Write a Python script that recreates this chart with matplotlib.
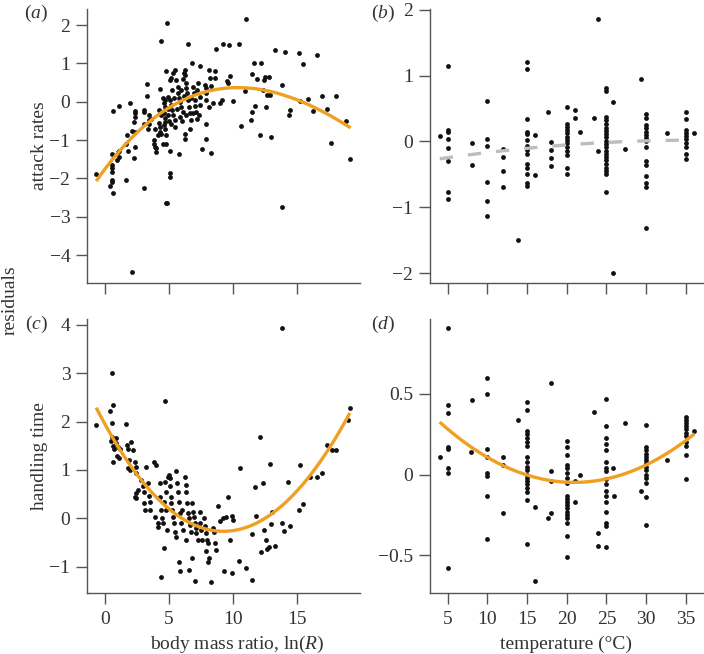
import numpy as np
import matplotlib
matplotlib.use("Agg")
import matplotlib.pyplot as plt

plt.rcParams['font.family'] = ['Liberation Serif', 'DejaVu Serif']
plt.rcParams['mathtext.fontset'] = 'custom'
plt.rcParams['mathtext.rm'] = 'Liberation Serif'
plt.rcParams['mathtext.it'] = 'Liberation Serif:italic'

# (a) attack rate residuals vs body mass ratio
attack_pts = [
    (-0.68, -1.89), (0.36, -2.19), (0.63, -2.37), (0.55, -1.37), (0.55, -1.65), (0.55, -1.74),
    (0.55, -1.83), (0.57, -2.04), (0.57, -2.09), (0.63, -0.23), (1.07, -0.11), (0.94, -1.52),
    (1.02, -1.30), (1.09, -1.28), (1.07, -1.43), (1.67, -2.04), (1.67, -1.10), (1.69, -0.87),
    (1.80, -1.28), (1.93, -0.03), (2.14, -0.76), (2.32, -0.78), (2.32, -0.30), (2.32, -0.23),
    (2.32, -0.39), (2.29, -0.52), (2.37, -1.17), (2.29, -1.48), (2.11, -4.45), (3.05, -2.26),
    (3.02, -0.22), (3.05, -0.57), (3.02, -0.26), (3.26, 0.46), (3.31, 0.15), (3.41, -0.35),
    (3.44, -0.48), (3.44, -0.57), (3.36, -0.70), (3.80, -1.00), (3.83, -1.09), (3.88, -1.17),
    (3.98, -1.30), (4.01, -1.22), (4.27, 0.32), (4.22, -0.22), (4.27, -0.65), (4.32, -0.78),
    (4.14, -0.87), (4.40, -0.83), (4.38, 1.59), (4.53, 0.09), (4.58, -0.04), (4.66, 0.04),
    (4.71, -0.13), (4.61, -0.30), (4.66, -0.43), (4.71, -0.52), (4.58, -0.61), (4.66, -0.72),
    (4.79, -0.87), (4.77, -1.09), (4.53, -1.09), (4.84, 2.06), (4.79, 0.81), (4.74, -2.63),
    (4.87, -2.65), (5.08, 0.57), (5.13, 0.63), (5.10, -1.28), (5.10, -1.87), (5.10, -1.96),
    (4.92, 0.13), (5.05, 0.04), (5.18, -0.09), (5.26, -0.22), (5.31, -0.35), (5.44, -0.48),
    (4.92, -0.35), (5.18, -0.57), (5.49, 0.83), (5.57, 0.57), (5.70, 0.39), (5.70, 0.22),
    (5.78, 0.09), (5.83, 0.00), (5.96, -0.13), (6.09, -0.26), (5.83, -0.39), (5.78, -1.37),
    (6.15, 0.76), (6.25, 0.83), (6.28, 0.70), (6.35, 0.48), (6.35, 0.35), (6.43, 0.22),
    (6.48, 0.04), (6.54, -0.13), (6.61, -0.30), (6.69, -0.48), (6.61, -0.70), (6.22, -0.83),
    (6.25, -0.96), (6.51, 1.50), (6.82, 1.00), (6.88, 0.39), (6.95, 0.22), (7.01, 0.04),
    (7.03, -0.11), (7.08, -0.26), (7.19, 0.30), (7.29, 0.48), (7.40, 0.93), (7.42, 0.13),
    (7.42, -0.09), (7.34, -0.35), (7.55, -1.24), (7.81, 0.44), (7.86, 0.35), (7.92, 0.22),
    (7.92, 0.04), (7.86, -0.57), (7.89, -0.98), (8.10, 0.83), (8.18, 0.61), (8.13, -0.13),
    (8.31, 0.41), (8.44, -0.04), (8.28, -1.33), (8.59, 0.80), (8.62, 0.62), (8.65, 1.37),
    (8.96, -0.04), (9.14, 0.04), (9.22, 1.50), (9.53, 0.55), (9.61, 0.48), (9.69, 1.48),
    (9.79, 0.67), (10.0, 0.02), (10.44, 1.50), (10.65, -0.63), (10.91, 0.29), (11.04, 2.15),
    (11.43, -0.48), (11.48, -0.28), (11.51, 0.72), (11.64, 1.00), (11.74, -0.10), (11.88, 0.59),
    (12.08, -0.87), (12.21, 1.00), (12.34, 0.30), (12.40, 0.57), (12.47, 0.65), (12.53, -0.13),
    (12.68, 0.17), (12.79, 0.65), (12.86, 0.17), (12.92, -0.91), (13.26, 1.35), (13.78, 0.43),
    (13.80, -2.74), (14.04, 1.30), (14.38, -0.35), (14.43, -0.22), (15.13, 1.28), (15.21, 0.02),
    (15.47, 0.98), (15.86, 0.06), (16.20, -0.23), (16.56, 1.21), (16.90, 0.15), (17.29, -0.19),
    (17.63, -1.07), (18.02, 0.15), (18.80, -0.50), (19.11, -1.50),
    (5.2, 0.30), (5.4, 0.10), (5.6, -0.20), (5.9, 0.30), (6.0, -0.50), (6.3, -0.35),
    (6.7, 0.10), (6.9, -0.30), (5.5, -0.65), (4.9, -0.20), (5.0, -0.50), (6.2, 0.15),
    (7.2, -0.45), (6.1, 0.60), (5.3, 0.75), (4.4, -0.35), (4.2, -0.55), (3.6, -0.45), (3.9, -0.70),
]
attack_curve_x = [-0.68, 2.19, 5.0, 10.0, 11.5, 15.0, 19.17]
attack_curve_y = [-2.07, -0.91, -0.15, 0.35, 0.37, 0.04, -0.68]

# (c) handling time residuals vs body mass ratio
handling_pts = [
    (-0.68, 1.93), (0.36, 2.21), (0.52, 3.00), (0.63, 2.34), (0.57, 1.97), (0.55, 1.69),
    (0.49, 1.59), (0.63, 1.50), (0.68, 1.43), (0.63, 1.17), (0.83, 1.66), (0.89, 1.55),
    (1.02, 1.48), (0.94, 1.28), (1.07, 1.24), (1.15, 1.43), (1.67, 1.95), (1.74, 1.52),
    (1.80, 1.43), (1.88, 1.21), (1.80, 1.03), (2.06, 1.57), (2.19, 1.41), (2.32, 1.17),
    (2.40, 1.07), (1.98, 1.00), (2.45, 0.93), (2.40, 0.52), (2.32, 0.45), (2.45, 0.41),
    (2.58, 0.59), (2.84, 0.79), (2.97, 0.66), (3.02, 0.55), (3.05, 0.31), (3.10, 0.17),
    (3.23, 1.07), (3.36, 0.72), (3.41, 0.46), (3.49, 0.34), (3.54, 0.17), (3.80, 1.17),
    (3.88, 0.03), (4.01, 1.10), (4.14, -0.19), (4.17, -0.10), (4.27, 0.72), (4.32, 0.45),
    (4.40, 0.17), (4.45, 0.00), (4.53, -0.10), (4.58, 0.34), (4.66, 0.76), (4.74, 0.55),
    (4.79, 0.17), (4.84, -0.24), (4.92, 0.86), (4.38, -1.21), (4.58, -0.62), (4.71, 2.43),
    (5.00, 0.90), (5.05, 0.66), (5.13, 0.45), (5.18, 0.31), (5.26, 0.17), (5.31, 0.03),
    (5.36, -0.10), (5.44, -0.28), (5.52, -0.38), (5.10, 0.83), (5.57, 0.97), (5.62, 0.72),
    (5.70, 0.55), (5.78, 0.34), (5.83, 0.10), (5.96, -0.10), (6.04, 0.17), (6.09, -0.24),
    (5.78, -0.91), (5.83, -1.10), (6.22, 0.86), (6.30, 0.69), (6.35, 0.55), (6.41, 0.31),
    (6.48, 0.10), (6.56, 0.00), (6.61, -0.14), (6.74, -0.28), (6.35, -0.45), (6.56, -1.07),
    (6.82, 0.31), (6.88, 0.14), (6.93, 0.03), (7.01, -0.10), (7.08, -0.21), (7.14, -0.31),
    (7.27, -0.45), (7.40, 0.14), (7.45, -0.10), (7.53, -0.24), (7.60, -0.45), (6.82, -0.83),
    (7.01, -1.29), (7.71, 0.00), (7.79, -0.17), (7.92, -0.30), (7.97, -0.45), (8.05, -0.52),
    (7.86, -0.67), (8.05, -0.90), (8.13, -0.83), (8.26, -1.31), (8.44, -0.21), (8.49, -0.28),
    (8.57, -0.52), (8.65, -0.66), (8.83, 0.26), (8.96, -0.05), (9.22, 0.00), (9.48, 0.02),
    (9.58, 0.45), (9.74, -0.45), (9.92, 0.05), (10.0, -0.03), (9.27, -1.10), (9.95, -1.14),
    (10.52, 1.03), (10.47, -0.88), (11.04, -1.02), (11.48, -1.28), (11.46, -0.33), (11.74, 0.64),
    (11.82, 0.05), (12.08, 1.69), (12.21, -0.69), (12.34, 0.72), (12.40, -0.24), (12.60, -0.45),
    (12.66, -0.64), (12.81, -0.59), (12.86, 1.12), (12.92, -0.12), (13.00, 0.14), (13.26, -0.57),
    (13.78, 3.93), (13.78, -0.10), (13.98, -0.26), (14.30, 0.76), (14.43, -0.17), (15.16, 0.17),
    (15.21, 1.10), (15.42, 0.29), (15.99, 0.86), (16.51, 0.86), (16.90, 0.93), (17.29, 1.52),
    (17.68, 1.41), (18.02, 1.41), (18.98, 2.03), (19.11, 2.28),
]
handling_curve_x = [-0.68, 2.19, 5.0, 8.96, 10.0, 15.0, 19.11]
handling_curve_y = [2.26, 1.07, 0.19, -0.30, -0.28, 0.62, 2.16]

# (b) attack rate residuals vs temperature
attack_temp_pts = [
    (4.0, 0.08), (5, 1.14), (5, 0.17), (5, 0.15), (5, 0.03), (5, -0.10), (5, -0.30), (5, -0.77),
    (5, -0.88), (8.0, -0.03), (8.0, -0.36), (10, 0.62), (10, 0.04), (10, -0.07), (10, -0.61),
    (10, -0.91), (10, -1.13), (12.0, -0.11), (12.0, -0.23), (12.0, -0.45), (12.0, -0.70),
    (13.9, -1.49), (15, 1.20), (15, 1.10), (15, 0.34), (15, 0.15), (15, 0.11), (15, 0.02),
    (15, -0.07), (15, -0.13), (15, -0.19), (15, -0.35), (15, -0.41), (15, -0.49), (15, -0.63),
    (15, -0.68), (16.0, 0.10), (16.0, -0.51), (17.6, 0.44), (18.0, -0.01), (18.0, -0.13),
    (18.0, -0.25), (18.0, -0.37), (20, 0.52), (20, 0.27), (20, 0.22), (20, 0.17), (20, 0.12),
    (20, 0.07), (20, 0.02), (20, -0.03), (20, -0.08), (20, -0.14), (20, -0.21), (20, -0.41),
    (20, -0.50), (21.0, 0.47), (21.0, 0.35), (21.7, 0.14), (23.5, 0.36), (23.9, 1.86),
    (23.9, -0.14), (25, 0.81), (25, 0.76), (25, 0.37), (25, 0.32), (25, 0.26), (25, 0.21),
    (25, 0.16), (25, 0.11), (25, 0.06), (25, 0.01), (25, -0.04), (25, -0.09), (25, -0.14),
    (25, -0.19), (25, -0.24), (25, -0.29), (25, -0.34), (25, -0.40), (25, -0.45), (25, -0.49),
    (25, -0.77), (25.8, 0.60), (25.8, -2.00), (27.4, -0.12), (29.4, 0.94), (30, 0.42),
    (30, 0.35), (30, 0.25), (30, 0.20), (30, 0.15), (30, 0.10), (30, 0.05), (30, 0.00),
    (30, -0.08), (30, -0.30), (30, -0.36), (30, -0.52), (30, -0.63), (30, -0.70), (30, -1.32),
    (32.7, 0.12), (35, 0.45), (35, 0.34), (35, 0.18), (35, 0.13), (35, 0.08), (35, 0.03),
    (35, -0.02), (35, -0.08), (35, -0.19), (35, -0.27), (36.0, 0.12),
]
attack_temp_curve_x = [4.0, 8.7, 15.0, 20.0, 25.0, 30.0, 35.1]
attack_temp_curve_y = [-0.27, -0.18, -0.10, -0.06, -0.02, 0.01, 0.02]

# (d) handling time residuals vs temperature
handling_temp_pts = [
    (4.0, 0.11), (5, 0.91), (5, 0.43), (5, 0.38), (5, 0.17), (5, 0.16), (5, 0.04), (5, 0.01),
    (5, -0.58), (8.0, 0.46), (7.9, 0.14), (10, 0.60), (10, 0.50), (10, 0.16), (10, 0.11),
    (10, 0.01), (10, -0.01), (10, -0.13), (10, -0.40), (12.0, 0.11), (12.0, 0.06), (12.0, -0.24),
    (13.9, 0.34), (15, 0.45), (15, 0.40), (15, 0.27), (15, 0.25), (15, 0.23), (15, 0.20),
    (15, 0.18), (15, 0.11), (15, 0.08), (15, 0.05), (15, 0.03), (15, 0.00), (15, -0.02),
    (15, -0.04), (15, -0.06), (15, -0.08), (15, -0.11), (15, -0.16), (15, -0.43), (16.0, -0.20),
    (16.0, -0.66), (17.6, -0.27), (18.0, 0.57), (18.0, 0.02), (18.0, -0.04), (18.0, -0.24),
    (20, 0.21), (20, 0.17), (20, 0.12), (20, 0.06), (20, 0.04), (20, 0.01), (20, -0.02),
    (20, -0.05), (20, -0.13), (20, -0.15), (20, -0.17), (20, -0.19), (20, -0.21), (20, -0.23),
    (20, -0.25), (20, -0.27), (20, -0.30), (20, -0.38), (20, -0.51), (21.0, -0.04), (21.0, -0.17),
    (21.7, 0.00), (23.5, 0.39), (23.9, -0.36), (23.9, -0.44), (25, 0.47), (25, 0.30), (25, 0.23),
    (25, 0.19), (25, 0.15), (25, 0.08), (25, 0.04), (25, 0.02), (25, -0.03), (25, -0.06),
    (25, -0.10), (25, -0.13), (25, -0.17), (25, -0.23), (25, -0.30), (25, -0.32), (25, -0.45),
    (25.8, 0.04), (26.0, -0.13), (27.4, 0.32), (29.4, -0.10), (30, 0.31), (30, 0.17), (30, 0.15),
    (30, 0.13), (30, 0.11), (30, 0.09), (30, 0.07), (30, 0.05), (30, 0.03), (30, 0.00),
    (30, -0.02), (30, -0.05), (30, -0.14), (30, -0.31), (32.7, 0.09), (35, 0.36), (35, 0.34),
    (35, 0.32), (35, 0.30), (35, 0.28), (35, 0.26), (35, 0.24), (35, 0.20), (35, 0.18),
    (35, 0.12), (35, -0.03), (36.0, 0.27),
]
handling_temp_curve_x = [4.0, 10.0, 15.0, 20.0, 25.0, 30.0, 36.1]
handling_temp_curve_y = [0.31, 0.13, 0.01, -0.06, -0.04, 0.06, 0.26]

orange = '#EFA020'
grey = '#BDBDBD'
txt = '#333333'

fig = plt.figure(figsize=(7.04, 6.54), dpi=100)
W, H = 704, 654


def make_ax(l, t, r, b):
    return fig.add_axes([l / W, 1 - b / H, (r - l) / W, (b - t) / H])


ax_a = make_ax(87, 9, 360, 283)
ax_b = make_ax(430, 9, 704, 283)
ax_c = make_ax(87, 319, 360, 593)
ax_d = make_ax(430, 319, 704, 593)

fs = 14


def style(ax):
    for s in ['top', 'right']:
        ax.spines[s].set_visible(False)
    for s in ['left', 'bottom']:
        ax.spines[s].set_color('#555555')
        ax.spines[s].set_linewidth(1.0)
    ax.tick_params(direction='out', length=8, width=1.0, color='#555555',
                   labelsize=fs, labelcolor=txt, pad=4)
    ax.tick_params(axis='x', pad=5)


def scatter_fit(ax, pts, cx, cy, deg, lo, hi, color, dashed=False):
    p = np.array(pts)
    ax.scatter(p[:, 0], p[:, 1], s=12, color='#111111', linewidths=0, zorder=2)
    coef = np.polyfit(cx, cy, deg)
    xs = np.linspace(lo, hi, 200)
    if dashed:
        ax.plot(xs, np.polyval(coef, xs), color=color, lw=2.4, dashes=(4.0, 4.5), zorder=3)
    else:
        ax.plot(xs, np.polyval(coef, xs), color=color, lw=2.4, zorder=3,
                solid_capstyle='butt')


scatter_fit(ax_a, attack_pts, attack_curve_x, attack_curve_y, 3, -0.68, 19.17, orange)
scatter_fit(ax_c, handling_pts, handling_curve_x, handling_curve_y, 3, -0.68, 19.11, orange)
scatter_fit(ax_b, attack_temp_pts, attack_temp_curve_x, attack_temp_curve_y, 2, 4.0, 35.3, grey, dashed=True)
scatter_fit(ax_d, handling_temp_pts, handling_temp_curve_x, handling_temp_curve_y, 2, 4.0, 36.1, orange)

for ax in (ax_a, ax_b, ax_c, ax_d):
    style(ax)

ax_a.set_xlim(-1.4, 19.9)
ax_a.set_ylim(-4.73, 2.42)
ax_a.set_xticks([0, 5, 10, 15])
ax_a.set_xticklabels([])
ax_a.set_yticks([-4, -3, -2, -1, 0, 1, 2])
ax_a.set_yticklabels(['\u22124', '\u22123', '\u22122', '\u22121', '0', '1', '2'])

ax_c.set_xlim(-1.4, 19.9)
ax_c.set_ylim(-1.545, 4.12)
ax_c.set_xticks([0, 5, 10, 15])
ax_c.set_yticks([-1, 0, 1, 2, 3, 4])
ax_c.set_yticklabels(['\u22121', '0', '1', '2', '3', '4'])

ax_b.set_xlim(2.77, 37.3)
ax_b.set_ylim(-2.15, 2.01)
ax_b.set_xticks([5, 10, 15, 20, 25, 30, 35])
ax_b.set_xticklabels([])
ax_b.set_yticks([-2, -1, 0, 1, 2])
ax_b.set_yticklabels(['\u22122', '\u22121', '0', '1', '2'])

ax_d.set_xlim(2.77, 37.3)
ax_d.set_ylim(-0.734, 0.965)
ax_d.set_xticks([5, 10, 15, 20, 25, 30, 35])
ax_d.set_yticks([-0.5, 0, 0.5])
ax_d.set_yticklabels(['\u22120.5', '0', '0.5'])

fig.text(39 / W, 1 - 146 / H, 'attack rates', rotation=90, ha='center', va='center',
         fontsize=fs, color=txt)
fig.text(39 / W, 1 - 456 / H, 'handling time', rotation=90, ha='center', va='center',
         fontsize=fs, color=txt)
fig.text(10 / W, 1 - 300 / H, 'residuals', rotation=90, ha='center', va='center',
         fontsize=fs, color=txt)
fig.text(237 / W, 1 - 644 / H, 'body mass ratio, ln($R$)', ha='center', va='center',
         fontsize=fs, color=txt)
fig.text(566 / W, 1 - 644 / H, 'temperature (°C)', ha='center', va='center',
         fontsize=fs, color=txt)

for lab, x, y in [('a', 36, 13), ('b', 383, 13), ('c', 36, 324), ('d', 383, 324)]:
    fig.text(x / W, 1 - y / H, '($' + lab + '$)', ha='center', va='center',
             fontsize=fs, color=txt)

fig.savefig('out.png', dpi=100)
